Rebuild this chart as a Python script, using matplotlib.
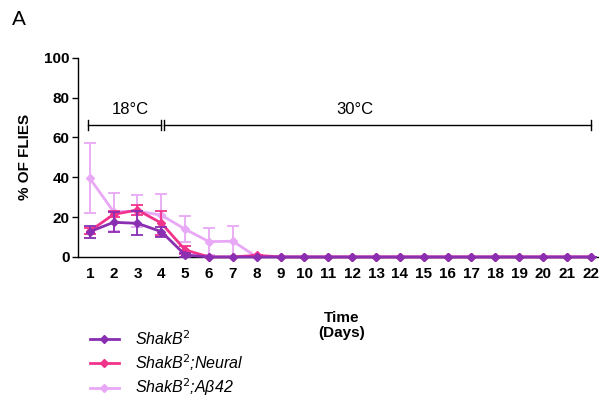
import matplotlib
matplotlib.use("Agg")
import matplotlib.pyplot as plt
from matplotlib.lines import Line2D

plt.rcParams["font.family"] = ["Liberation Sans", "DejaVu Sans"]

days = list(range(1, 23))

# mean % of flies and SEM per day
shakb_mean = [12.7, 17.4, 16.9, 12.7, 1.0] + [0] * 17
shakb_err = [3.0, 5.0, 6.0, 2.5, 0.8] + [0] * 17
neural_mean = [13.0, 21.4, 23.6, 17.0, 3.5, 0, 0, 0.8] + [0] * 14
neural_err = [1.5, 1.5, 2.3, 6.0, 2.0, 0, 0, 0] + [0] * 14
abeta_mean = [39.5, 22.7, 23.0, 21.0, 13.9, 7.7, 7.9, 0] + [0] * 14
abeta_err = [17.5, 9.5, 8.0, 10.5, 6.5, 6.8, 7.7, 0] + [0] * 14

labels = ["ShakB$^2$", "ShakB$^2$;Neural", "ShakB$^2$;Aβ42"]
colors = ["#8a2eb2", "#f2338c", "#e8a8f5"]

fig = plt.figure(figsize=(5.99, 3.99), dpi=100)
ax = fig.add_axes([0.130, 0.356, 0.880, 0.499])

series = [(shakb_mean, shakb_err), (neural_mean, neural_err), (abeta_mean, abeta_err)]
for (m, e), c, z in zip(reversed(series), reversed(colors), [1, 2, 3]):
    ax.errorbar(days, m, yerr=e, color=c, marker="D", markersize=4.5, lw=2,
                capsize=4, elinewidth=1.3, capthick=1.3, zorder=z, clip_on=False)

ax.set_xlim(0.5, 22.6)
ax.set_ylim(0, 100)
ax.set_yticks([0, 20, 40, 60, 80, 100])
ax.set_xticks(days)
ax.tick_params(axis="y", labelsize=11, length=4, width=1, pad=2)
ax.tick_params(axis="x", labelsize=11, length=0, pad=7)
for lab in ax.get_xticklabels() + ax.get_yticklabels():
    lab.set_fontweight("bold")
ax.spines["top"].set_visible(False)
ax.spines["right"].set_visible(False)
ax.spines["left"].set_linewidth(1)
ax.spines["bottom"].set_linewidth(1)

ax.set_ylabel("% OF FLIES", fontsize=11, fontweight="bold", labelpad=9)
ax.set_xlabel("Time\n(Days)", fontsize=11, fontweight="bold", labelpad=22,
              linespacing=1.05)

# temperature bars
yb = 66.5
ax.plot([0.92, 4.0], [yb, yb], color="black", lw=1, clip_on=False)
ax.plot([4.12, 22.0], [yb, yb], color="black", lw=1, clip_on=False)
for xv in [0.92, 4.0, 4.12, 22.0]:
    ax.plot([xv, xv], [yb - 2.5, yb + 2.5], color="black", lw=1, clip_on=False)
ax.text(2.7, yb + 4, "18°C", ha="center", va="bottom", fontsize=12)
ax.text(12.1, yb + 4, "30°C", ha="center", va="bottom", fontsize=12)

fig.text(0.02, 0.95, "A", fontsize=15, va="center")

handles = [Line2D([0], [0], color=c, marker="D", markersize=4, lw=2) for c in colors]
fig.legend(handles, labels, loc="upper left", bbox_to_anchor=(0.15, 0.175),
           frameon=False, prop={"size": 11.5, "style": "italic"},
           handlelength=1.8, handletextpad=1.0, labelspacing=0.25,
           borderaxespad=0, borderpad=0)

fig.savefig("out.png", dpi=100)
